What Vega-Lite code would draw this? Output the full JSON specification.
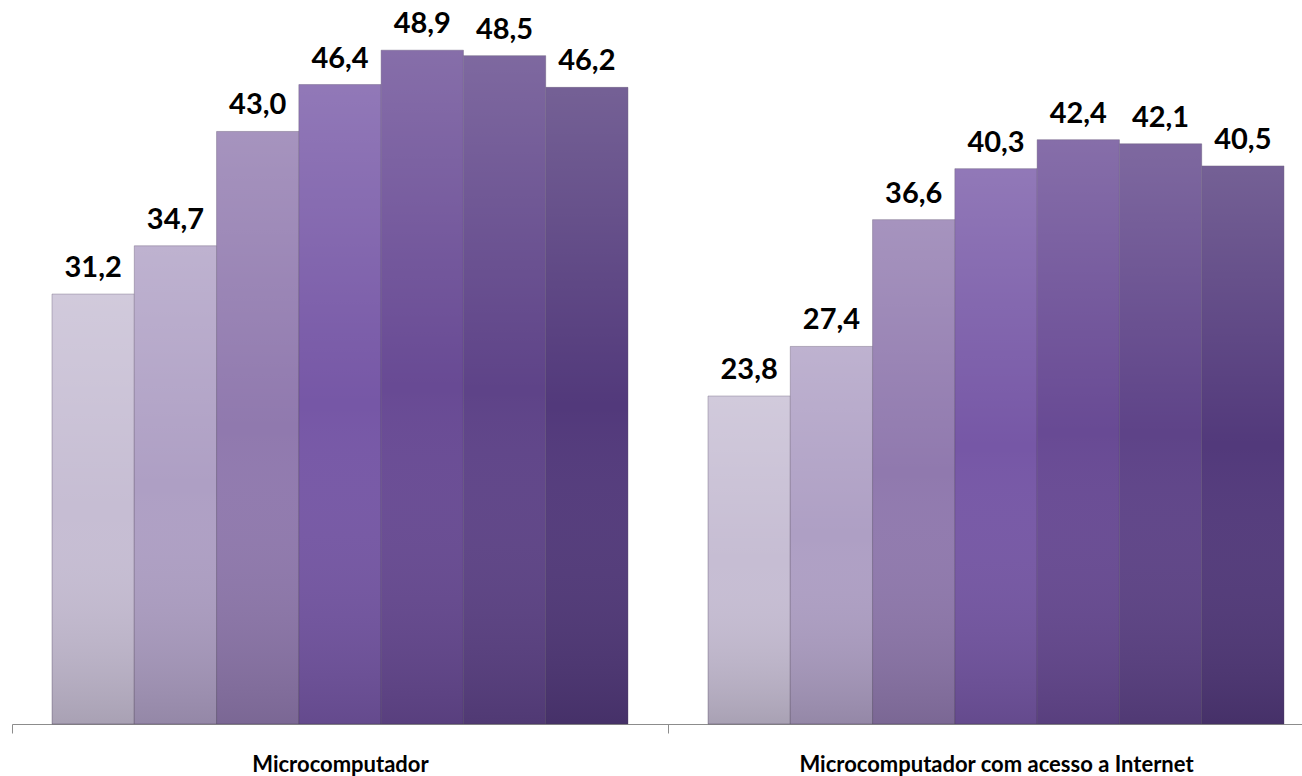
{
  "$schema": "https://vega.github.io/schema/vega-lite/v6.json",
  "width": 1290,
  "height": 689,
  "autosize": {"type": "none"},
  "padding": {"left": 12, "top": 35, "right": 0, "bottom": 52},
  "config": {
    "view": {"stroke": null},
    "font": "Lato",
    "locale": {"number": {"decimal": ",", "thousands": ".", "grouping": [3], "currency": ["R$", ""]}}
  },
  "data": {
    "values": [
      {"grupo": "Microcomputador", "ano": "2008", "valor": 31.2},
      {"grupo": "Microcomputador", "ano": "2009", "valor": 34.7},
      {"grupo": "Microcomputador", "ano": "2011", "valor": 43.0},
      {"grupo": "Microcomputador", "ano": "2012", "valor": 46.4},
      {"grupo": "Microcomputador", "ano": "2013", "valor": 48.9},
      {"grupo": "Microcomputador", "ano": "2014", "valor": 48.5},
      {"grupo": "Microcomputador", "ano": "2015", "valor": 46.2},
      {"grupo": "Microcomputador com acesso a Internet", "ano": "2008", "valor": 23.8},
      {"grupo": "Microcomputador com acesso a Internet", "ano": "2009", "valor": 27.4},
      {"grupo": "Microcomputador com acesso a Internet", "ano": "2011", "valor": 36.6},
      {"grupo": "Microcomputador com acesso a Internet", "ano": "2012", "valor": 40.3},
      {"grupo": "Microcomputador com acesso a Internet", "ano": "2013", "valor": 42.4},
      {"grupo": "Microcomputador com acesso a Internet", "ano": "2014", "valor": 42.1},
      {"grupo": "Microcomputador com acesso a Internet", "ano": "2015", "valor": 40.5}
    ]
  },
  "encoding": {
    "x": {
      "field": "grupo",
      "type": "nominal",
      "sort": ["Microcomputador", "Microcomputador com acesso a Internet"],
      "scale": {"range": [0, 1312], "paddingInner": 0.122, "paddingOuter": 0.061},
      "axis": {
        "title": null,
        "labelAngle": 0,
        "bandPosition": 0,
        "tickOffset": -40,
        "labelOffset": 40,
        "domainColor": "#8c8c8c",
        "tickColor": "#8c8c8c",
        "tickSize": 9,
        "labelFont": "Lato",
        "labelFontSize": 22,
        "labelFontWeight": "bold",
        "labelColor": "#000000",
        "labelBaseline": "alphabetic",
        "labelPadding": 38,
        "labelLimit": 0,
        "grid": false
      }
    },
    "xOffset": {"field": "ano", "type": "nominal", "scale": {"paddingInner": 0, "paddingOuter": 0}},
    "y": {"field": "valor", "type": "quantitative", "scale": {"domain": [0, 50]}, "axis": null}
  },
  "layer": [
    {
      "mark": {"type": "bar", "stroke": "#4a3d5c", "strokeOpacity": 0.35, "strokeWidth": 1},
      "encoding": {
        "color": {
          "field": "ano",
          "type": "nominal",
          "legend": null,
          "scale": {"range": ["#c6bdd3", "#ae9fc4", "#9079ae", "#7657a6", "#684a94", "#5e4388", "#52397b"]}
        }
      }
    },
    {
      "mark": {
        "type": "bar",
        "fill": {
          "gradient": "linear", "x1": 0, "y1": 0, "x2": 0, "y2": 1,
          "stops": [
            {"offset": 0, "color": "rgba(255,255,255,0.2)"},
            {"offset": 0.5, "color": "rgba(255,255,255,0)"},
            {"offset": 1, "color": "rgba(0,0,0,0.15)"}
          ]
        }
      }
    },
    {
      "mark": {"type": "text", "dy": -17, "baseline": "alphabetic", "fontSize": 29, "fontWeight": "bold", "font": "Lato", "color": "#000000"},
      "encoding": {"text": {"field": "valor", "type": "quantitative", "format": ".1f"}}
    }
  ]
}
